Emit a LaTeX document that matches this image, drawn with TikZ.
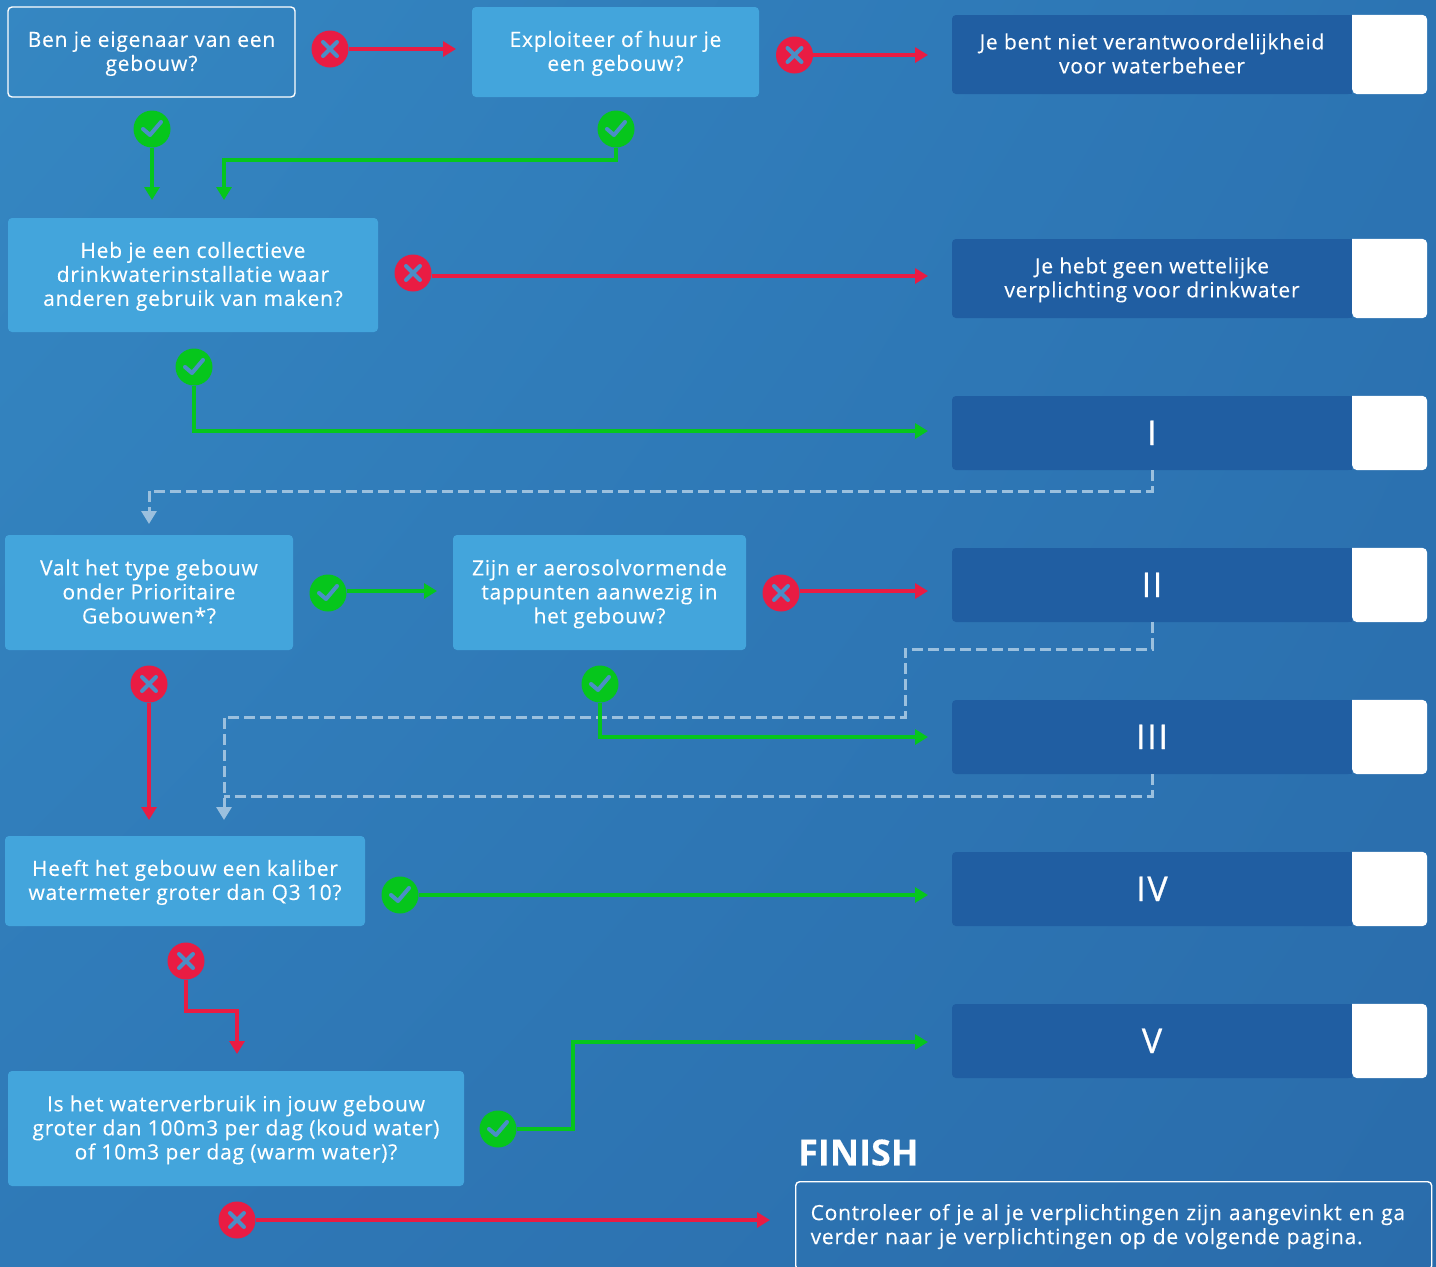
\documentclass[tikz,border=0pt]{standalone}
\usepackage{fontspec}
\setmainfont[LetterSpace=3.6,FakeBold=0.2]{Open Sans}
\newfontfamily\boxfont[LetterSpace=3.5,FakeBold=0.15]{Open Sans}
\newfontfamily\headfont[FakeBold=0.3]{Open Sans Bold}
\newfontfamily\numfont[FakeBold=0.8,LetterSpace=5]{Open Sans}
\usetikzlibrary{arrows.meta,calc,shadings}
\definecolor{bgUL}{HTML}{3587C2}
\definecolor{bgUR}{HTML}{2C74B3}
\definecolor{bgLL}{HTML}{2F79B7}
\definecolor{bgLR}{HTML}{2A6CAB}
\definecolor{qfill}{HTML}{43A5DC}
\definecolor{rfill}{HTML}{205EA2}
\definecolor{nored}{HTML}{E91C43}
\definecolor{yesgreen}{HTML}{06C61C}
\definecolor{dashc}{HTML}{9BC0DE}
\definecolor{markc}{HTML}{4A8EC6}
\newcommand{\sttext}[1]{\rule{0pt}{21pt}#1\strut}
\tikzset{
  x=1pt,y=-1pt,
  txt/.style={text=white,align=center,font=\fontsize{21}{24}\selectfont,inner sep=0pt},
  qbox/.style={txt,fill=qfill,rounded corners=4pt},
  qline/.style={txt,draw=white,line width=1.4pt,rounded corners=4pt},
  rbox/.style={txt,fill=rfill,rounded corners=4pt,minimum width=400pt},
  numeral/.style={font=\numfont\fontsize{34}{36}\selectfont,text height=24pt,text depth=0pt},
  icon/.style={circle,minimum size=37pt,inner sep=0pt},
  noicon/.style={icon,fill=nored},
  yesicon/.style={icon,fill=yesgreen},
  markline/.style={draw=markc,line width=4pt,line cap=round,line join=round},
  flow/.style={line width=3.1pt,-{Triangle[length=13pt,width=15pt]}},
  redflow/.style={flow,draw=nored,color=nored},
  greenflow/.style={flow,draw=yesgreen,color=yesgreen},
  dashline/.style={draw=dashc,line width=3pt,dash pattern=on 11pt off 5pt},
  dashtip/.style={draw=dashc,line width=3pt,-{Triangle[length=13pt,width=15pt,color=dashc,fill=dashc]}},
}
\newcommand{\qnode}[7]{\node[#1,minimum width=#5pt,minimum height=#6pt] (#2) at (#3,#4) {\sttext{#7}};}
\newcommand{\rnode}[5]{%
  \node[rbox,minimum height=#4pt,#5] (#1) at (1152,#3) {#2};
  \fill[rfill] ($(#1.north east)+(-8,0)$) rectangle (#1.south east);
  \fill[white,rounded corners=5pt] (#1.north east) -- ++(75,0) -- ($(#1.south east)+(75,0)$) -- (#1.south east) [sharp corners] -- cycle;}
\newcommand{\noic}[3]{\node[noicon] (#1) at (#2,#3) {};
  \draw[markline] ($(#1)+(-7,-7)$) -- ($(#1)+(7,7)$) ($(#1)+(7,-7)$) -- ($(#1)+(-7,7)$);}
\newcommand{\yesic}[3]{\node[yesicon] (#1) at (#2,#3) {};
  \draw[markline] ($(#1)+(-9,0)$) -- ($(#1)+(-2,6)$) -- ($(#1)+(9,-7)$);}
\begin{document}
\begin{tikzpicture}
\useasboundingbox (0,0) rectangle (1436,1267);
\clip (0,0) rectangle (1436,1267);
\shade[upper left=bgUL,upper right=bgUR,lower left=bgLL,lower right=bgLR] (0,0) rectangle (1436,1267);
% result boxes
\rnode{r1}{\rule{0pt}{21pt}Je bent niet verantwoordelijkheid\\voor waterbeheer\strut}{54.5}{79}{}
\rnode{r2}{\rule{0pt}{21pt}Je hebt geen wettelijke\\verplichting voor drinkwater\strut}{278.5}{79}{}
\rnode{rI}{I}{433}{74}{numeral}
\rnode{rII}{II}{585}{74}{numeral}
\rnode{rIII}{III}{737}{74}{numeral}
\rnode{rIV}{IV}{889}{74}{numeral}
\rnode{rV}{V}{1041}{74}{numeral}
% question boxes
\qnode{qline}{q1}{151.5}{52}{287}{90}{Ben je eigenaar van een\\gebouw?}
\qnode{qbox}{q2}{615.5}{52}{287}{90}{Exploiteer of huur je\\een gebouw?}
\qnode{qbox}{q3}{193}{275}{370}{114}{Heb je een collectieve\\drinkwaterinstallatie waar\\anderen gebruik van maken?}
\qnode{qbox}{q4}{149}{592.5}{288}{115}{Valt het type gebouw\\onder Prioritaire\\Gebouwen*?}
\qnode{qbox}{q5}{599.5}{592.5}{293}{115}{Zijn er aerosolvormende\\tappunten aanwezig in\\het gebouw?}
\qnode{qbox}{q6}{185}{881}{360}{90}{Heeft het gebouw een kaliber\\watermeter groter dan Q3 10?}
\qnode{qbox}{q7}{236}{1128.5}{456}{115}{Is het waterverbruik in jouw gebouw\\groter dan 100m3 per dag (koud water)\\of 10m3 per dag (warm water)?}
% finish
\node[anchor=south west,inner sep=0pt,text=white,font=\headfont\fontsize{36}{40}\selectfont] (fin) at (798,1166) {FINISH};
\node[qline,font=\boxfont\fontsize{21}{24}\selectfont,anchor=north west,minimum width=636pt,minimum height=88pt,text width=606pt,align=left] (fbox) at (795,1181) {\rule{0pt}{20pt}Controleer of je al je verplichtingen zijn aangevinkt en ga\\verder naar je verplichtingen op de volgende pagina.\strut};
% free ends
\coordinate (t1) at (456,49);
\coordinate (t2) at (928,55);
\coordinate (t3) at (152,200);
\coordinate (t4) at (224,200);
\coordinate (t5) at (928,276);
\coordinate (t6) at (928,431);
\coordinate (t7) at (437,591);
\coordinate (t8) at (928,591);
\coordinate (t9) at (149,820);
\coordinate (t10) at (928,737);
\coordinate (t11) at (928,895);
\coordinate (t12) at (237,1054);
\coordinate (t13) at (928,1042);
\coordinate (t14) at (770,1220);
\coordinate (d1) at (149,524);
\coordinate (d2) at (224,820);
% dashed connectors
\draw[dashline] (rI.south) -- (1152,491) -- (149,491) -- (149,507);
\draw[dashtip] (149,507) -- (d1);
\draw[dashline] (rII.south) -- (1152,649) -- (905,649) -- (905,717) -- (224,717) -- (224,805);
\draw[dashline] (rIII.south) -- (1152,796) -- (224,796);
\draw[dashtip] (224,805) -- (d2);
% icons
\noic{n1}{330}{49}
\noic{n2}{794.5}{55}
\noic{n3}{413}{273}
\noic{n4}{781}{593}
\noic{n5}{149}{684}
\noic{n6}{186}{961}
\noic{n7}{237}{1220}
\yesic{y1}{152}{129}
\yesic{y2}{616}{129}
\yesic{y3}{194}{367}
\yesic{y4}{328}{593}
\yesic{y5}{600}{684}
\yesic{y6}{400}{895}
\yesic{y7}{498}{1129}
% connectors
\draw[redflow] (n1.east) -- (t1);
\draw[redflow] (n2.east) -- (t2);
\draw[redflow] (n3.east |- t5) -- (t5);
\draw[redflow] (n4.east |- t8) -- (t8);
\draw[redflow] (n5.south) -- (t9);
\draw[redflow] (n6.south) -- (186,1011) -- (237,1011) -- (t12);
\draw[redflow] (n7.east) -- (t14);
\draw[greenflow] (y1.south) -- (t3);
\draw[greenflow] (y2.south) -- (616,160) -- (224,160) -- (t4);
\draw[greenflow] (y3.south) -- (194,431) -- (t6);
\draw[greenflow] (y4.east |- t7) -- (t7);
\draw[greenflow] (y5.south) -- (600,737) -- (t10);
\draw[greenflow] (y6.east) -- (t11);
\draw[greenflow] (y7.east) -- (573,1129) -- (573,1042) -- (t13);
\end{tikzpicture}
\end{document}
